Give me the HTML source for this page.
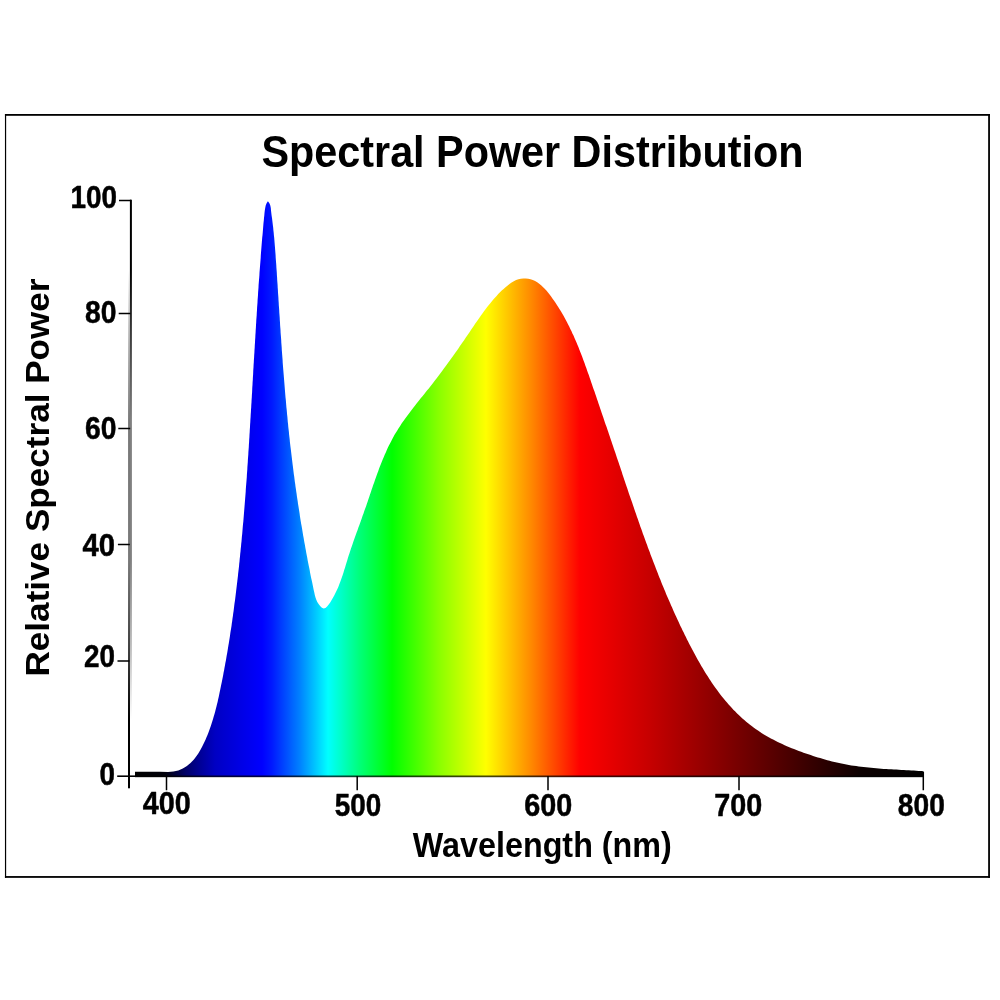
<!DOCTYPE html>
<html><head><meta charset="utf-8"><title>Spectral Power Distribution</title>
<style>
html,body{margin:0;padding:0;background:#fff;}
body{width:1000px;height:1000px;overflow:hidden;}
svg{display:block;}
text{font-family:"Liberation Sans",Arial,Helvetica,sans-serif;font-weight:bold;fill:#000;}
.tk text{stroke:#000;stroke-width:0.5px;stroke-linejoin:round;}
</style></head><body>
<svg width="1000" height="1000" viewBox="0 0 1000 1000">
<defs>
<linearGradient id="sp" gradientUnits="userSpaceOnUse" x1="135" y1="0" x2="923.5" y2="0">
<stop offset="0.0000" stop-color="rgb(0,0,0)"/>
<stop offset="0.0380" stop-color="rgb(0,0,10)"/>
<stop offset="0.0507" stop-color="rgb(0,0,55)"/>
<stop offset="0.0634" stop-color="rgb(0,0,100)"/>
<stop offset="0.0824" stop-color="rgb(0,0,150)"/>
<stop offset="0.1015" stop-color="rgb(0,0,195)"/>
<stop offset="0.1332" stop-color="rgb(0,0,228)"/>
<stop offset="0.1611" stop-color="rgb(0,0,255)"/>
<stop offset="0.1737" stop-color="rgb(0,25,255)"/>
<stop offset="0.2093" stop-color="rgb(0,130,255)"/>
<stop offset="0.2448" stop-color="rgb(0,255,255)"/>
<stop offset="0.2854" stop-color="rgb(0,255,120)"/>
<stop offset="0.3259" stop-color="rgb(0,255,0)"/>
<stop offset="0.3868" stop-color="rgb(140,255,0)"/>
<stop offset="0.4451" stop-color="rgb(255,255,0)"/>
<stop offset="0.5010" stop-color="rgb(255,140,0)"/>
<stop offset="0.5644" stop-color="rgb(255,0,0)"/>
<stop offset="0.6531" stop-color="rgb(198,0,0)"/>
<stop offset="0.7660" stop-color="rgb(118,0,0)"/>
<stop offset="0.8561" stop-color="rgb(55,0,0)"/>
<stop offset="0.9195" stop-color="rgb(12,0,0)"/>
<stop offset="1.0000" stop-color="rgb(0,0,0)"/>
</linearGradient>
<linearGradient id="ya" gradientUnits="userSpaceOnUse" x1="0" y1="200" x2="0" y2="788">
<stop offset="0.0000" stop-color="#000" stop-opacity="1"/>
<stop offset="0.1190" stop-color="#000" stop-opacity="1"/>
<stop offset="0.2211" stop-color="#000" stop-opacity="0.78"/>
<stop offset="0.3741" stop-color="#000" stop-opacity="0.5"/>
<stop offset="0.6122" stop-color="#000" stop-opacity="0.5"/>
<stop offset="0.7653" stop-color="#000" stop-opacity="0.25"/>
<stop offset="0.8844" stop-color="#000" stop-opacity="0"/>
<stop offset="1.0000" stop-color="#000" stop-opacity="0"/>
</linearGradient>
<linearGradient id="yb" gradientUnits="userSpaceOnUse" x1="0" y1="200" x2="0" y2="788">
<stop offset="0.0000" stop-color="#000" stop-opacity="0.00"/>
<stop offset="0.1190" stop-color="#000" stop-opacity="0.00"/>
<stop offset="0.2211" stop-color="#000" stop-opacity="0.22"/>
<stop offset="0.3741" stop-color="#000" stop-opacity="0.50"/>
<stop offset="0.6122" stop-color="#000" stop-opacity="0.50"/>
<stop offset="0.7653" stop-color="#000" stop-opacity="0.75"/>
<stop offset="0.8844" stop-color="#000" stop-opacity="1.00"/>
<stop offset="1.0000" stop-color="#000" stop-opacity="1.00"/>
</linearGradient>
</defs>
<rect x="0" y="0" width="1000" height="1000" fill="#fff"/>
<g fill="#000">
<rect x="4.95" y="114" width="1.2" height="763.85"/>
<rect x="4.95" y="114" width="985" height="1.8"/>
<rect x="988.15" y="114" width="1.8" height="763.85"/>
<rect x="4.95" y="876.05" width="985" height="1.8"/>
</g>
<path fill="url(#sp)" d="M135.0 777.1 L135.0 771.7 L150.0 771.7 L160.0 771.8 L168.0 771.9 L170.8 771.8 L173.4 771.5 L175.9 771.1 L178.3 770.4 L180.6 769.5 L182.8 768.5 L184.9 767.3 L186.9 766.0 L188.7 764.5 L190.5 763.0 L192.2 761.2 L193.9 759.4 L195.4 757.5 L196.9 755.5 L198.3 753.4 L199.6 751.3 L200.9 749.1 L202.1 746.8 L203.2 744.5 L204.3 742.2 L205.4 739.9 L206.4 737.6 L207.4 735.3 L208.3 732.9 L209.2 730.6 L210.0 728.2 L210.9 725.8 L211.6 723.5 L212.4 721.1 L213.1 718.7 L213.8 716.3 L214.5 713.9 L215.2 711.5 L215.8 709.1 L216.4 706.7 L217.0 704.3 L217.6 701.9 L218.1 699.4 L218.7 697.0 L219.2 694.6 L219.7 692.1 L220.2 689.7 L220.7 687.3 L221.2 684.8 L221.7 682.4 L222.2 679.9 L222.7 677.5 L223.2 675.1 L223.6 672.6 L224.1 670.2 L224.5 667.7 L225.0 665.3 L225.4 662.8 L225.9 660.4 L226.3 657.9 L226.7 655.5 L227.2 653.0 L227.6 650.5 L228.0 648.1 L228.4 645.6 L228.8 643.2 L229.2 640.7 L229.6 638.2 L230.0 635.8 L230.3 633.3 L230.7 630.8 L231.1 628.4 L231.5 625.9 L231.8 623.4 L232.2 620.9 L232.5 618.5 L232.9 616.0 L233.2 613.5 L233.6 611.1 L233.9 608.6 L234.2 606.1 L234.5 603.6 L234.9 601.1 L235.2 598.7 L235.5 596.2 L235.8 593.7 L236.1 591.2 L236.4 588.8 L236.7 586.3 L237.0 583.8 L237.3 581.3 L237.6 578.8 L237.9 576.3 L238.1 573.9 L238.4 571.4 L238.7 568.9 L239.0 566.4 L239.2 563.9 L239.5 561.4 L239.7 559.0 L240.0 556.5 L240.2 554.0 L240.5 551.5 L240.7 549.0 L241.0 546.5 L241.2 544.0 L241.5 541.6 L241.7 539.1 L241.9 536.6 L242.2 534.1 L242.4 531.6 L242.6 529.1 L242.8 526.6 L243.0 524.2 L243.3 521.7 L243.5 519.2 L243.7 516.7 L243.9 514.2 L244.1 511.7 L244.3 509.2 L244.5 506.7 L244.7 504.3 L244.9 501.8 L245.1 499.3 L245.3 496.8 L245.5 494.3 L245.7 491.8 L245.8 489.3 L246.0 486.8 L246.2 484.3 L246.4 481.9 L246.6 479.4 L246.8 476.9 L246.9 474.4 L247.1 471.9 L247.3 469.4 L247.4 466.9 L247.6 464.4 L247.8 461.9 L247.9 459.5 L248.1 457.0 L248.3 454.5 L248.4 452.0 L248.6 449.5 L248.8 447.0 L248.9 444.5 L249.1 442.0 L249.2 439.5 L249.4 437.1 L249.5 434.6 L249.7 432.1 L249.8 429.6 L250.0 427.1 L250.1 424.6 L250.3 422.1 L250.4 419.6 L250.6 417.1 L250.7 414.6 L250.9 412.1 L251.0 409.7 L251.2 407.2 L251.3 404.7 L251.5 402.2 L251.6 399.7 L251.8 397.2 L251.9 394.7 L252.1 392.2 L252.2 389.7 L252.3 387.2 L252.5 384.7 L252.6 382.3 L252.8 379.8 L252.9 377.3 L253.1 374.8 L253.2 372.3 L253.3 369.8 L253.5 367.3 L253.6 364.8 L253.8 362.3 L253.9 359.8 L254.1 357.3 L254.2 354.9 L254.4 352.4 L254.5 349.9 L254.7 347.4 L254.8 344.9 L255.0 342.4 L255.1 339.9 L255.3 337.4 L255.4 334.9 L255.6 332.4 L255.7 330.0 L255.9 327.5 L256.0 325.0 L256.2 322.5 L256.3 320.0 L256.5 317.5 L256.7 315.0 L256.8 312.5 L257.0 310.0 L257.1 307.5 L257.3 305.0 L257.5 302.6 L257.6 300.1 L257.8 297.6 L258.0 295.1 L258.1 292.6 L258.3 290.1 L258.5 287.6 L258.6 285.1 L258.8 282.6 L259.0 280.1 L259.2 277.7 L259.4 275.2 L259.5 272.7 L259.7 270.2 L259.9 267.7 L260.1 265.2 L260.3 262.7 L260.5 260.2 L260.7 257.7 L260.8 255.3 L261.0 252.8 L261.2 250.3 L261.4 247.8 L261.6 245.3 L261.8 242.8 L262.0 240.3 L262.2 237.8 L262.5 235.3 L262.7 232.9 L262.9 230.4 L263.1 227.9 L263.3 225.4 L263.5 222.9 L263.8 220.4 L264.0 217.9 L264.3 215.4 L264.5 213.0 L264.8 210.5 L265.2 208.0 L265.7 205.6 L266.6 203.3 L267.9 201.2 L269.4 203.2 L270.3 205.5 L270.8 208.0 L271.0 210.5 L271.3 213.0 L271.6 215.5 L272.0 217.9 L272.3 220.4 L272.6 222.9 L272.9 225.4 L273.2 227.8 L273.4 230.3 L273.7 232.8 L273.9 235.3 L274.2 237.8 L274.4 240.3 L274.6 242.7 L274.8 245.2 L275.0 247.7 L275.2 250.2 L275.4 252.7 L275.6 255.2 L275.7 257.7 L275.9 260.2 L276.1 262.7 L276.3 265.2 L276.4 267.6 L276.6 270.1 L276.8 272.6 L276.9 275.1 L277.1 277.6 L277.2 280.1 L277.4 282.6 L277.6 285.1 L277.7 287.6 L277.9 290.1 L278.0 292.6 L278.2 295.1 L278.4 297.6 L278.5 300.1 L278.7 302.6 L278.8 305.0 L279.0 307.5 L279.2 310.0 L279.3 312.5 L279.5 315.0 L279.7 317.5 L279.8 320.0 L280.0 322.5 L280.1 325.0 L280.3 327.5 L280.5 330.0 L280.6 332.5 L280.8 335.0 L281.0 337.5 L281.2 340.0 L281.3 342.5 L281.5 345.0 L281.7 347.4 L281.8 349.9 L282.0 352.4 L282.2 354.9 L282.4 357.4 L282.6 359.9 L282.7 362.4 L282.9 364.9 L283.1 367.4 L283.3 369.9 L283.5 372.4 L283.7 374.8 L283.9 377.3 L284.1 379.8 L284.3 382.3 L284.5 384.8 L284.7 387.3 L284.9 389.8 L285.1 392.3 L285.3 394.8 L285.5 397.2 L285.8 399.7 L286.0 402.2 L286.2 404.7 L286.4 407.2 L286.7 409.7 L286.9 412.1 L287.1 414.6 L287.4 417.1 L287.6 419.6 L287.8 422.1 L288.1 424.6 L288.3 427.0 L288.6 429.5 L288.9 432.0 L289.1 434.5 L289.4 436.9 L289.7 439.4 L289.9 441.9 L290.2 444.4 L290.5 446.9 L290.8 449.3 L291.1 451.8 L291.4 454.3 L291.7 456.8 L292.0 459.2 L292.3 461.7 L292.6 464.2 L292.9 466.6 L293.2 469.1 L293.5 471.6 L293.8 474.1 L294.2 476.5 L294.5 479.0 L294.8 481.5 L295.2 483.9 L295.5 486.4 L295.9 488.9 L296.2 491.3 L296.6 493.8 L296.9 496.3 L297.3 498.7 L297.7 501.2 L298.0 503.7 L298.4 506.1 L298.8 508.6 L299.2 511.1 L299.6 513.5 L299.9 516.0 L300.3 518.5 L300.7 520.9 L301.1 523.4 L301.6 525.9 L302.0 528.3 L302.4 530.8 L302.8 533.3 L303.2 535.7 L303.7 538.2 L304.1 540.7 L304.5 543.1 L305.0 545.6 L305.4 548.1 L305.9 550.5 L306.3 553.0 L306.8 555.5 L307.3 557.9 L307.7 560.4 L308.2 562.9 L308.7 565.4 L309.2 567.8 L309.7 570.3 L310.1 572.8 L310.6 575.2 L311.1 577.7 L311.7 580.2 L312.2 582.6 L312.7 585.1 L313.2 587.6 L313.7 590.0 L314.3 592.5 L314.8 595.0 L315.5 597.4 L316.3 599.7 L317.3 601.9 L318.6 604.1 L320.1 606.0 L321.9 607.7 L323.7 608.5 L325.5 608.0 L327.1 606.5 L328.7 604.6 L330.2 602.4 L331.5 600.3 L332.8 598.0 L334.1 595.8 L335.2 593.6 L336.3 591.3 L337.4 589.0 L338.4 586.7 L339.3 584.3 L340.2 582.0 L341.1 579.6 L341.9 577.3 L342.7 574.9 L343.5 572.5 L344.2 570.1 L345.0 567.7 L345.7 565.3 L346.4 562.9 L347.2 560.5 L347.9 558.1 L348.6 555.7 L349.4 553.4 L350.2 551.0 L351.0 548.6 L351.8 546.3 L352.6 543.9 L353.4 541.6 L354.2 539.2 L355.0 536.9 L355.9 534.6 L356.7 532.2 L357.6 529.9 L358.4 527.5 L359.3 525.2 L360.1 522.9 L361.0 520.5 L361.8 518.2 L362.6 515.8 L363.5 513.5 L364.3 511.1 L365.1 508.8 L366.0 506.4 L366.8 504.1 L367.6 501.7 L368.4 499.3 L369.2 496.9 L370.0 494.6 L370.8 492.2 L371.6 489.8 L372.4 487.4 L373.2 485.1 L374.1 482.7 L374.9 480.3 L375.7 477.9 L376.6 475.6 L377.4 473.2 L378.3 470.9 L379.1 468.5 L380.0 466.2 L380.9 463.9 L381.9 461.5 L382.8 459.2 L383.8 456.9 L384.8 454.6 L385.8 452.4 L386.8 450.1 L387.8 447.8 L388.9 445.6 L390.0 443.4 L391.2 441.2 L392.3 439.0 L393.5 436.8 L394.7 434.6 L396.0 432.5 L397.3 430.4 L398.6 428.3 L400.0 426.2 L401.3 424.1 L402.7 422.1 L404.2 420.0 L405.6 418.0 L407.1 416.0 L408.6 414.0 L410.1 412.0 L411.6 410.0 L413.1 408.0 L414.7 406.0 L416.2 404.0 L417.8 402.1 L419.4 400.1 L420.9 398.1 L422.5 396.2 L424.1 394.2 L425.6 392.3 L427.2 390.3 L428.8 388.4 L430.3 386.4 L431.9 384.4 L433.4 382.5 L434.9 380.5 L436.5 378.5 L438.0 376.5 L439.5 374.6 L441.0 372.6 L442.5 370.6 L443.9 368.6 L445.4 366.6 L446.9 364.6 L448.3 362.6 L449.8 360.5 L451.2 358.5 L452.7 356.5 L454.1 354.5 L455.5 352.4 L457.0 350.4 L458.4 348.4 L459.8 346.3 L461.2 344.3 L462.6 342.2 L464.1 340.2 L465.5 338.1 L466.9 336.0 L468.3 334.0 L469.7 331.9 L471.1 329.8 L472.5 327.7 L473.9 325.7 L475.3 323.6 L476.8 321.5 L478.2 319.4 L479.6 317.4 L481.1 315.3 L482.6 313.3 L484.0 311.3 L485.5 309.3 L487.0 307.3 L488.6 305.3 L490.1 303.4 L491.7 301.5 L493.3 299.6 L494.9 297.7 L496.6 295.9 L498.2 294.1 L500.0 292.3 L501.7 290.6 L503.6 288.9 L505.5 287.3 L507.4 285.7 L509.5 284.1 L511.6 282.6 L513.8 281.2 L516.1 280.1 L518.5 279.2 L520.9 278.7 L523.3 278.5 L525.7 278.5 L528.2 278.8 L530.5 279.3 L532.8 280.1 L535.1 281.1 L537.2 282.3 L539.2 283.7 L541.1 285.2 L542.9 286.9 L544.7 288.7 L546.4 290.6 L548.0 292.6 L549.6 294.6 L551.1 296.6 L552.6 298.7 L554.1 300.7 L555.5 302.8 L556.9 304.9 L558.2 307.0 L559.6 309.2 L560.9 311.3 L562.2 313.5 L563.4 315.6 L564.6 317.8 L565.8 320.0 L567.0 322.2 L568.1 324.4 L569.2 326.6 L570.3 328.9 L571.4 331.1 L572.4 333.4 L573.5 335.6 L574.5 337.9 L575.5 340.2 L576.5 342.5 L577.4 344.8 L578.4 347.1 L579.3 349.4 L580.2 351.7 L581.1 354.0 L582.0 356.3 L582.9 358.7 L583.7 361.0 L584.6 363.3 L585.4 365.7 L586.3 368.0 L587.1 370.4 L587.9 372.7 L588.8 375.1 L589.6 377.4 L590.4 379.8 L591.2 382.2 L592.0 384.5 L592.8 386.9 L593.6 389.2 L594.5 391.6 L595.3 394.0 L596.1 396.3 L596.9 398.7 L597.7 401.1 L598.5 403.4 L599.3 405.8 L600.1 408.2 L600.9 410.5 L601.7 412.9 L602.5 415.3 L603.3 417.6 L604.1 420.0 L604.9 422.4 L605.7 424.7 L606.6 427.1 L607.4 429.5 L608.2 431.8 L609.0 434.2 L609.8 436.6 L610.6 438.9 L611.4 441.3 L612.2 443.7 L613.0 446.0 L613.8 448.4 L614.6 450.8 L615.4 453.1 L616.2 455.5 L617.0 457.9 L617.8 460.2 L618.6 462.6 L619.4 465.0 L620.2 467.3 L621.0 469.7 L621.8 472.1 L622.5 474.4 L623.3 476.8 L624.1 479.2 L624.9 481.5 L625.7 483.9 L626.5 486.3 L627.3 488.6 L628.1 491.0 L628.9 493.4 L629.7 495.7 L630.5 498.1 L631.4 500.5 L632.2 502.8 L633.0 505.2 L633.8 507.5 L634.6 509.9 L635.4 512.2 L636.2 514.6 L637.0 517.0 L637.9 519.3 L638.7 521.7 L639.5 524.0 L640.3 526.4 L641.2 528.7 L642.0 531.1 L642.8 533.4 L643.7 535.8 L644.5 538.1 L645.4 540.5 L646.2 542.8 L647.1 545.1 L647.9 547.5 L648.8 549.8 L649.7 552.1 L650.5 554.5 L651.4 556.8 L652.3 559.1 L653.2 561.5 L654.1 563.8 L655.0 566.1 L655.9 568.5 L656.8 570.8 L657.7 573.1 L658.6 575.4 L659.5 577.7 L660.5 580.0 L661.4 582.4 L662.3 584.7 L663.3 587.0 L664.2 589.3 L665.2 591.6 L666.1 593.9 L667.1 596.2 L668.1 598.5 L669.1 600.8 L670.1 603.1 L671.1 605.4 L672.1 607.6 L673.1 609.9 L674.1 612.2 L675.1 614.5 L676.2 616.8 L677.2 619.0 L678.3 621.3 L679.3 623.6 L680.4 625.9 L681.5 628.1 L682.6 630.4 L683.7 632.6 L684.8 634.9 L685.9 637.1 L687.0 639.4 L688.1 641.6 L689.3 643.9 L690.4 646.1 L691.6 648.3 L692.8 650.6 L694.0 652.8 L695.2 655.0 L696.4 657.2 L697.6 659.4 L698.8 661.6 L700.1 663.8 L701.3 666.0 L702.6 668.1 L703.9 670.3 L705.2 672.4 L706.5 674.5 L707.9 676.6 L709.2 678.7 L710.6 680.8 L712.0 682.9 L713.4 684.9 L714.8 687.0 L716.3 689.0 L717.8 691.0 L719.2 693.0 L720.7 694.9 L722.3 696.9 L723.8 698.8 L725.4 700.7 L727.0 702.6 L728.6 704.4 L730.3 706.3 L731.9 708.1 L733.6 709.9 L735.3 711.6 L737.1 713.4 L738.8 715.1 L740.6 716.8 L742.4 718.4 L744.3 720.1 L746.2 721.7 L748.1 723.2 L750.0 724.8 L752.0 726.3 L753.9 727.8 L756.0 729.2 L758.0 730.6 L760.1 732.0 L762.2 733.4 L764.3 734.7 L766.5 736.0 L768.7 737.2 L770.9 738.4 L773.1 739.6 L775.4 740.8 L777.7 741.9 L780.0 743.0 L782.3 744.1 L784.6 745.2 L786.9 746.2 L789.3 747.2 L791.7 748.2 L794.0 749.1 L796.4 750.0 L798.8 750.9 L801.2 751.8 L803.5 752.7 L805.9 753.5 L808.3 754.3 L810.7 755.1 L813.1 755.9 L815.4 756.7 L817.8 757.4 L820.2 758.1 L822.5 758.8 L824.9 759.5 L827.3 760.2 L829.6 760.8 L832.0 761.4 L834.4 762.0 L836.8 762.5 L839.1 763.1 L841.5 763.6 L844.0 764.1 L846.4 764.5 L848.8 765.0 L851.3 765.4 L853.7 765.7 L856.2 766.1 L858.7 766.4 L861.1 766.8 L863.6 767.0 L866.1 767.3 L868.6 767.6 L871.1 767.8 L873.6 768.1 L876.2 768.3 L878.7 768.5 L881.2 768.7 L883.7 768.9 L886.2 769.0 L888.7 769.2 L891.3 769.3 L893.8 769.5 L896.3 769.6 L898.8 769.8 L901.3 769.9 L903.8 770.0 L906.3 770.2 L908.8 770.3 L911.3 770.5 L913.8 770.6 L916.2 770.7 L918.7 770.9 L921.2 771.0 L923.6 771.2 L923.6 777.1 Z"/>
<rect x="129.9" y="199.7" width="2" height="588.6" fill="url(#ya)"/>
<rect x="128" y="199.7" width="2" height="588.6" fill="url(#yb)"/>
<g stroke="#000" stroke-width="1.9" fill="none">
<path d="M117.2 776.2 H135" stroke-width="1.6"/>
<path d="M135 776.3 H923.6" stroke-width="1.8" stroke-opacity="0.72"/>
<path d="M119 200.5 H131 M118.7 313.5 H130.5 M118.3 428.5 H130.2 M117.9 544.5 H129.8 M117.5 661 H129.4" stroke-width="1.35"/>
<path d="M166.5 776 V790.3 M357.2 776 V790.3 M548 776 V790.3 M739 776 V790.3 M923.3 772 V790.3" stroke-width="1.5"/>
</g>
<text id="title" x="261.5" y="166.6" font-size="45" textLength="542" lengthAdjust="spacingAndGlyphs">Spectral Power Distribution</text>
<g class="tk" font-size="31.5" text-anchor="end">
<text x="117" y="207.6" textLength="46.5" lengthAdjust="spacingAndGlyphs">100</text>
<text x="116.5" y="323" textLength="31.5" lengthAdjust="spacingAndGlyphs">80</text>
<text x="116.5" y="439" textLength="31.5" lengthAdjust="spacingAndGlyphs">60</text>
<text x="115" y="555.5" textLength="32.5" lengthAdjust="spacingAndGlyphs">40</text>
<text x="115" y="666.7" textLength="31" lengthAdjust="spacingAndGlyphs">20</text>
<text x="115" y="785" textLength="15.5" lengthAdjust="spacingAndGlyphs">0</text>
</g>
<g class="tk" font-size="32" text-anchor="middle">
<text x="166.8" y="814" textLength="48" lengthAdjust="spacingAndGlyphs">400</text>
<text x="358" y="816" textLength="46.5" lengthAdjust="spacingAndGlyphs">500</text>
<text x="548.2" y="816" textLength="48" lengthAdjust="spacingAndGlyphs">600</text>
<text x="738.3" y="816" textLength="48" lengthAdjust="spacingAndGlyphs">700</text>
<text x="921.3" y="816" textLength="47" lengthAdjust="spacingAndGlyphs">800</text>
</g>
<text id="xl" x="542.3" y="856.8" font-size="35" text-anchor="middle" textLength="259" lengthAdjust="spacingAndGlyphs">Wavelength (nm)</text>
<text id="yl" transform="translate(48.5 676.5) rotate(-90)" font-size="34" textLength="398" lengthAdjust="spacingAndGlyphs">Relative Spectral Power</text>
</svg>
</body></html>
